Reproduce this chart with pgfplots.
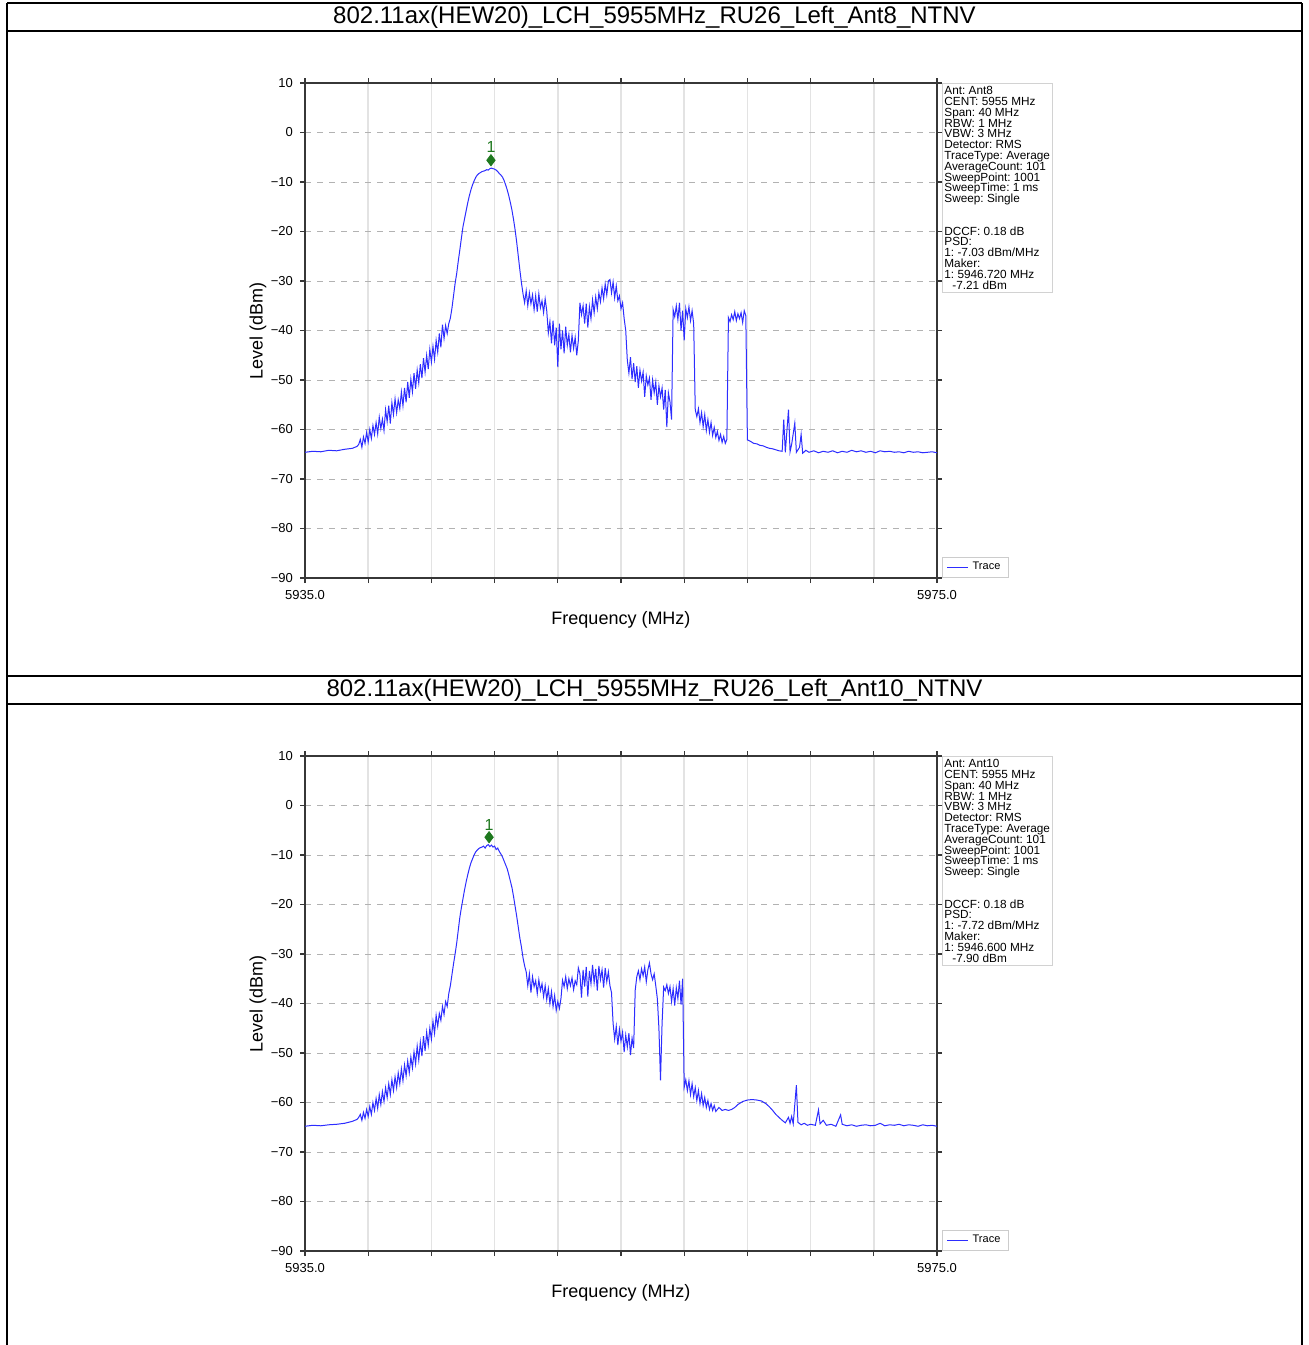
\documentclass[border=0pt]{standalone}
\usepackage{pgfplots}
\usepackage{pgfplotstable}
\pgfplotsset{compat=1.18}
\usepackage{fontspec}
\setmainfont{Liberation Sans}
\definecolor{trace}{RGB}{45,45,255}
\definecolor{mk}{RGB}{30,120,30}
\definecolor{frame}{RGB}{55,55,55}
\newcommand\infofont{\fontsize{5.9}{5.4}\selectfont}

\pgfplotstableread[row sep=\\]{
x y\\
5935 -64.6\\5935.5 -64.4\\5936 -64.5\\5936.5 -64.2\\5937 -64.3\\5937.5 -64.0\\5938 -63.8\\5938.3 -63.4\\
5938.4 -63.0\\5938.5 -62.0\\5938.6 -63.6\\5938.7 -61.5\\5938.8 -62.8\\5938.9 -60.6\\5939.0 -62.5\\5939.1 -60.0\\5939.2 -61.8\\5939.3 -59.2\\
5939.4 -61.0\\5939.5 -58.6\\5939.6 -60.9\\5939.7 -57.5\\5939.8 -59.8\\5939.9 -57.9\\5940.0 -60.2\\5940.1 -56.0\\5940.2 -58.4\\5940.3 -55.2\\
5940.4 -58.8\\5940.5 -54.6\\5940.6 -57.0\\5940.7 -53.8\\5940.8 -56.6\\5940.9 -54.0\\5941.0 -55.8\\5941.1 -52.4\\5941.2 -55.2\\5941.3 -51.6\\
5941.4 -54.5\\5941.5 -50.4\\5941.6 -53.6\\5941.7 -49.8\\5941.8 -52.4\\5941.9 -48.6\\5942.0 -51.8\\5942.1 -48.0\\5942.2 -50.6\\5942.3 -46.8\\
5942.4 -49.6\\5942.5 -45.6\\5942.6 -48.4\\5942.7 -45.0\\5942.8 -47.8\\5942.9 -43.8\\5943.0 -46.4\\5943.1 -43.2\\5943.2 -45.8\\5943.3 -42.0\\
5943.4 -44.4\\5943.5 -40.6\\5943.6 -43.4\\5943.7 -38.8\\5943.8 -41.6\\5943.9 -39.0\\5944.0 -40.6\\5944.1 -38.6\\
5944.2 -37.5\\5944.3 -35.5\\5944.4 -33.0\\5944.5 -30.5\\5944.6 -28.5\\5944.7 -26.0\\5944.8 -23.7\\5944.9 -21.3\\5945.0 -19.0\\5945.1 -17.4\\
5945.2 -15.8\\5945.3 -14.2\\5945.4 -12.8\\5945.5 -11.6\\5945.6 -10.6\\5945.7 -9.8\\5945.8 -9.1\\5945.9 -8.6\\5946.0 -8.3\\5946.1 -8.1\\
5946.2 -7.9\\5946.3 -7.8\\5946.4 -7.7\\5946.5 -7.5\\5946.6 -7.6\\5946.7 -7.3\\5946.8 -7.2\\5946.9 -7.3\\5947.0 -7.4\\5947.1 -7.6\\
5947.2 -7.9\\5947.3 -8.3\\5947.4 -8.6\\5947.5 -9.0\\5947.6 -9.7\\5947.7 -10.6\\5947.8 -11.6\\5947.9 -12.8\\5948.0 -14.2\\5948.1 -15.7\\
5948.2 -17.6\\5948.3 -19.7\\5948.4 -22.2\\5948.5 -25.0\\5948.6 -27.8\\5948.7 -30.4\\5948.8 -32.6\\5948.9 -34.4\\
5949.0 -32.0\\5949.1 -35.0\\5949.2 -32.4\\5949.3 -34.6\\5949.4 -32.8\\5949.5 -35.8\\5949.6 -33.0\\5949.7 -36.2\\5949.8 -32.6\\5949.9 -35.4\\
5950.0 -34.0\\5950.1 -36.4\\5950.2 -33.6\\5950.3 -36.0\\5950.4 -40.5\\5950.5 -38.2\\5950.6 -42.6\\5950.7 -38.0\\5950.8 -43.0\\5950.9 -39.4\\
5951.0 -47.4\\5951.1 -38.6\\5951.2 -43.8\\5951.3 -40.0\\5951.4 -44.6\\5951.5 -39.2\\5951.6 -43.0\\5951.7 -40.8\\5951.8 -44.4\\5951.9 -41.0\\
5952.0 -43.6\\5952.1 -41.4\\5952.2 -45.0\\5952.3 -42.0\\5952.4 -34.4\\5952.5 -36.8\\5952.6 -35.0\\5952.7 -38.6\\5952.8 -34.6\\5952.9 -39.4\\
5953.0 -35.2\\5953.1 -37.6\\5953.2 -33.8\\5953.3 -36.4\\5953.4 -33.2\\5953.5 -35.6\\5953.6 -32.4\\5953.7 -34.2\\5953.8 -31.4\\5953.9 -33.6\\
5954.0 -30.6\\5954.1 -32.8\\5954.2 -30.0\\5954.3 -29.7\\5954.4 -32.4\\5954.5 -30.2\\5954.6 -33.4\\5954.7 -31.0\\5954.8 -34.0\\5954.9 -33.0\\
5955.0 -35.6\\5955.1 -34.4\\5955.2 -37.6\\5955.3 -40.0\\5955.4 -46.0\\5955.5 -48.6\\5955.6 -45.4\\5955.7 -49.8\\5955.8 -46.6\\5955.9 -50.4\\
5956.0 -47.2\\5956.1 -51.6\\5956.2 -48.0\\5956.3 -50.2\\5956.4 -48.4\\5956.5 -53.4\\5956.6 -49.2\\5956.7 -51.0\\5956.8 -49.6\\5956.9 -54.0\\
5957.0 -50.0\\5957.1 -52.6\\5957.2 -50.4\\5957.3 -55.0\\5957.4 -51.2\\5957.5 -53.4\\5957.6 -51.6\\5957.7 -56.0\\5957.8 -52.0\\5957.9 -59.5\\
5958.0 -52.6\\5958.1 -54.4\\5958.2 -58.0\\5958.3 -35.8\\5958.4 -37.2\\5958.5 -35.0\\5958.6 -37.8\\5958.7 -34.4\\5958.8 -40.0\\5958.9 -36.0\\
5959.0 -42.0\\5959.1 -35.6\\5959.2 -37.4\\5959.3 -35.2\\5959.4 -38.0\\5959.5 -36.0\\5959.6 -38.6\\5959.7 -56.0\\5959.8 -57.4\\5959.9 -55.8\\
5960.0 -58.6\\5960.1 -56.6\\5960.2 -59.4\\5960.3 -57.0\\5960.4 -60.2\\5960.5 -58.0\\5960.6 -60.6\\5960.7 -58.6\\5960.8 -61.2\\5960.9 -59.6\\
5961.0 -61.6\\5961.1 -60.4\\5961.2 -62.2\\5961.3 -61.0\\5961.4 -62.6\\5961.5 -61.4\\5961.6 -62.8\\5961.7 -62.0\\5961.8 -37.4\\5961.9 -38.2\\
5962.0 -36.8\\5962.1 -37.8\\5962.2 -36.2\\5962.3 -38.0\\5962.4 -36.6\\5962.5 -37.6\\5962.6 -36.4\\5962.7 -38.4\\5962.8 -36.0\\5962.9 -37.0\\
5963.0 -62.1\\5963.2 -62.4\\5963.4 -62.8\\5963.6 -62.9\\5963.8 -63.2\\5964.0 -63.3\\5964.2 -63.6\\5964.4 -63.8\\5964.6 -63.9\\5964.8 -64.1\\
5965.0 -64.3\\5965.2 -64.4\\5965.3 -58.0\\5965.4 -64.6\\5965.6 -56.0\\5965.7 -64.5\\5965.8 -63.0\\5966.0 -58.7\\5966.1 -64.6\\5966.3 -63.6\\
5966.4 -61.0\\5966.5 -64.8\\5966.7 -64.2\\5966.9 -64.6\\5967.2 -64.3\\5967.5 -64.7\\5967.8 -64.4\\5968.1 -64.6\\5968.4 -64.3\\5968.7 -64.7\\
5969.0 -64.4\\5969.3 -64.6\\5969.6 -64.2\\5969.9 -64.5\\5970.2 -64.3\\5970.5 -64.6\\5970.8 -64.4\\5971.1 -64.7\\5971.4 -64.3\\5971.7 -64.5\\
5972.0 -64.4\\5972.3 -64.6\\5972.6 -64.5\\5972.9 -64.7\\5973.2 -64.4\\5973.5 -64.6\\5973.8 -64.5\\5974.1 -64.7\\5974.4 -64.6\\5974.7 -64.5\\
5975.0 -64.7\\
}\traceA

\pgfplotstableread[row sep=\\]{
x y\\
5935 -64.8\\5935.5 -64.6\\5936 -64.7\\5936.5 -64.5\\5937 -64.4\\5937.5 -64.2\\5938 -63.8\\5938.3 -63.4\\
5938.4 -63.0\\5938.5 -62.4\\5938.6 -63.6\\5938.7 -62.0\\5938.8 -63.2\\5938.9 -61.4\\5939.0 -62.8\\5939.1 -60.8\\5939.2 -62.4\\5939.3 -60.0\\
5939.4 -61.6\\5939.5 -59.2\\5939.6 -61.2\\5939.7 -58.4\\5939.8 -60.4\\5939.9 -57.8\\5940.0 -59.8\\5940.1 -57.0\\5940.2 -59.0\\5940.3 -56.2\\
5940.4 -58.4\\5940.5 -55.4\\5940.6 -57.6\\5940.7 -54.8\\5940.8 -57.0\\5940.9 -54.0\\5941.0 -56.2\\5941.1 -53.2\\5941.2 -55.6\\5941.3 -52.4\\
5941.4 -54.6\\5941.5 -51.6\\5941.6 -54.0\\5941.7 -50.8\\5941.8 -53.0\\5941.9 -49.8\\5942.0 -52.2\\5942.1 -48.6\\5942.2 -51.4\\5942.3 -47.8\\
5942.4 -50.6\\5942.5 -46.6\\5942.6 -49.6\\5942.7 -45.8\\5942.8 -48.4\\5942.9 -45.0\\5943.0 -47.2\\5943.1 -43.6\\5943.2 -46.0\\5943.3 -42.4\\
5943.4 -44.6\\5943.5 -42.0\\5943.6 -43.4\\5943.7 -40.6\\5943.8 -42.2\\5943.9 -39.6\\5944.0 -40.6\\5944.1 -38.0\\
5944.2 -36.4\\5944.3 -34.2\\5944.4 -32.0\\5944.5 -30.0\\5944.6 -27.8\\5944.7 -25.2\\5944.8 -22.6\\5944.9 -20.6\\5945.0 -18.8\\5945.1 -17.0\\
5945.2 -15.4\\5945.3 -14.0\\5945.4 -12.7\\5945.5 -11.6\\5945.6 -10.8\\5945.7 -10.0\\5945.8 -9.4\\5945.9 -9.0\\5946.0 -8.7\\5946.1 -8.5\\
5946.2 -8.4\\5946.3 -8.2\\5946.4 -8.6\\5946.5 -8.1\\5946.6 -7.9\\5946.7 -8.3\\5946.8 -8.0\\5946.9 -8.4\\5947.0 -8.2\\5947.1 -8.9\\
5947.2 -8.6\\5947.3 -9.3\\5947.4 -9.8\\5947.5 -10.4\\5947.6 -11.2\\5947.7 -12.0\\5947.8 -12.8\\5947.9 -14.0\\5948.0 -15.3\\5948.1 -16.6\\
5948.2 -18.4\\5948.3 -20.4\\5948.4 -22.4\\5948.5 -24.6\\5948.6 -26.8\\5948.7 -28.6\\5948.8 -30.8\\5948.9 -32.4\\
5949.0 -33.6\\5949.1 -36.4\\5949.2 -34.0\\5949.3 -37.8\\5949.4 -34.6\\5949.5 -36.6\\5949.6 -35.4\\5949.7 -38.0\\5949.8 -35.2\\5949.9 -37.4\\
5950.0 -36.0\\5950.1 -38.6\\5950.2 -36.4\\5950.3 -39.2\\5950.4 -37.0\\5950.5 -40.0\\5950.6 -37.6\\5950.7 -40.6\\5950.8 -38.4\\5950.9 -41.4\\
5951.0 -39.6\\5951.1 -41.0\\5951.2 -39.0\\5951.3 -35.3\\5951.4 -36.6\\5951.5 -34.6\\5951.6 -37.0\\5951.7 -35.0\\5951.8 -36.4\\5951.9 -34.8\\
5952.0 -37.2\\5952.1 -35.4\\5952.2 -36.2\\5952.3 -32.8\\5952.4 -34.0\\5952.5 -38.8\\5952.6 -33.2\\5952.7 -36.6\\5952.8 -32.6\\5952.9 -38.6\\
5953.0 -33.4\\5953.1 -36.0\\5953.2 -32.2\\5953.3 -35.8\\5953.4 -33.0\\5953.5 -37.4\\5953.6 -32.4\\5953.7 -35.2\\5953.8 -33.2\\5953.9 -36.8\\
5954.0 -32.8\\5954.1 -35.6\\5954.2 -33.6\\5954.3 -36.4\\5954.4 -37.8\\5954.5 -44.0\\5954.6 -47.2\\5954.7 -44.6\\5954.8 -48.4\\5954.9 -45.2\\
5955.0 -47.6\\5955.1 -45.8\\5955.2 -49.8\\5955.3 -46.4\\5955.4 -48.8\\5955.5 -46.0\\5955.6 -50.4\\5955.7 -47.0\\5955.8 -49.0\\5955.9 -37.3\\
5956.0 -34.6\\5956.1 -33.4\\5956.2 -35.2\\5956.3 -33.0\\5956.4 -34.4\\5956.5 -32.6\\5956.6 -35.6\\5956.7 -33.2\\5956.8 -31.8\\5956.9 -34.0\\
5957.0 -35.2\\5957.1 -34.0\\5957.2 -36.4\\5957.3 -39.0\\5957.4 -45.0\\5957.5 -55.5\\5957.6 -44.0\\5957.7 -36.7\\5957.8 -37.4\\5957.9 -36.2\\
5958.0 -38.0\\5958.1 -36.6\\5958.2 -39.6\\5958.3 -37.0\\5958.4 -40.4\\5958.5 -36.8\\5958.6 -39.0\\5958.7 -35.4\\5958.8 -40.2\\5958.9 -35.0\\
5959.0 -56.9\\5959.1 -55.4\\5959.2 -57.6\\5959.3 -55.6\\5959.4 -58.4\\5959.5 -56.2\\5959.6 -58.8\\5959.7 -57.0\\5959.8 -59.6\\5959.9 -57.6\\
5960.0 -60.2\\5960.1 -58.2\\5960.2 -60.6\\5960.3 -59.0\\5960.4 -61.0\\5960.5 -59.6\\5960.6 -61.4\\5960.7 -60.2\\5960.8 -61.6\\5960.9 -60.6\\
5961.0 -61.8\\5961.2 -61.0\\5961.4 -61.6\\5961.6 -61.4\\5961.8 -61.6\\5962.0 -61.4\\5962.2 -61.0\\5962.4 -60.4\\5962.7 -59.8\\5963.0 -59.5\\
5963.3 -59.4\\5963.6 -59.5\\5963.9 -59.7\\5964.2 -60.3\\5964.4 -60.9\\5964.6 -61.6\\5964.8 -62.4\\5965.0 -63.0\\5965.2 -63.6\\5965.4 -64.1\\
5965.6 -63.0\\5965.7 -64.2\\5965.8 -62.8\\5965.9 -64.3\\5966.1 -56.5\\5966.2 -64.0\\5966.4 -64.5\\5966.6 -64.2\\5966.8 -64.6\\5967.0 -64.4\\
5967.3 -64.6\\5967.5 -61.5\\5967.6 -64.3\\5967.8 -63.6\\5968.0 -64.6\\5968.3 -64.4\\5968.6 -64.8\\5968.9 -62.5\\5969.0 -64.4\\5969.3 -64.7\\
5969.6 -64.5\\5969.9 -64.8\\5970.2 -64.6\\5970.5 -64.5\\5970.8 -64.7\\5971.1 -64.6\\5971.4 -64.2\\5971.7 -64.7\\5972.0 -64.5\\5972.3 -64.6\\
5972.6 -64.4\\5972.9 -64.7\\5973.2 -64.5\\5973.5 -64.6\\5973.8 -64.8\\5974.1 -64.5\\5974.4 -64.7\\5974.7 -64.6\\5975.0 -64.8\\
}\traceB

\pgfplotsset{specstyle/.style={
  scale only axis, width=316pt, height=247.5pt,
  xmin=5935, xmax=5975, ymin=-90, ymax=10,
  xtick={5935,5939,5943,5947,5951,5955,5959,5963,5967,5971,5975},
  xticklabels={5935.0,,,,,,,,,,5975.0},
  ytick={-90,-80,-70,-60,-50,-40,-30,-20,-10,0,10},
  yticklabels={−90,−80,−70,−60,−50,−40,−30,−20,−10,0,10},
  /pgf/number format/assume math mode=true,
  tick align=outside, major tick length=2.5pt,
  tick style={frame, line width=0.6pt},
  axis line style={frame, line width=1pt},
  xmajorgrids, ymajorgrids,
  x grid style={gray!22, line width=0.8pt},
  y grid style={gray!60, dashed, line width=0.4pt},
  tick label style={font=\fontsize{6.5}{7}\selectfont},
  xlabel={Frequency (MHz)}, ylabel={Level (dBm)},
  label style={font=\fontsize{9}{10}\selectfont},
  xlabel style={at={(axis description cs:0.5,-0.0848)}, anchor=center},
  ylabel style={at={(axis description cs:-0.0744,0.5)}, anchor=center},
  legend style={at={(axis description cs:1.008,0)}, anchor=south west,
    font=\fontsize{5.5}{6}\selectfont, draw=gray!40, inner xsep=2pt, inner ysep=0.5pt},
  legend cell align=left,
  legend image code/.code={\draw[trace, line width=0.6pt] (0pt,0pt) -- (10.5pt,0pt);},
}}

\begin{document}
\frenchspacing
\lineskiplimit=-20pt
\lineskip=0pt
\begin{tikzpicture}
\useasboundingbox (0pt,0pt) rectangle (654pt,-672.5pt);
\begin{scope}[x=0.5pt,y=-0.5pt]
  \draw[line width=1pt] (7,3) -- (1302,3);
  \draw[line width=1pt] (7,31) -- (1302,31);
  \draw[line width=1pt] (7,676) -- (1302,676);
  \draw[line width=1pt] (7,704) -- (1302,704);
  \draw[line width=1pt] (7,3) -- (7,1345);
  \draw[line width=1pt] (1302,3) -- (1302,1345);
  \node[font=\fontsize{12}{14}\selectfont] at (654.5,17) {802.11ax(HEW20)\_LCH\_5955MHz\_RU26\_Left\_Ant8\_NTNV};
  \node[font=\fontsize{12}{14}\selectfont] at (654.5,690) {802.11ax(HEW20)\_LCH\_5955MHz\_RU26\_Left\_Ant10\_NTNV};
  \node[anchor=north west, draw=gray!35, fill=white, inner xsep=1pt, inner ysep=1.5pt, align=left,
        font=\infofont] at (942,83)
   {Ant: Ant8\\CENT: 5955 MHz\\Span: 40 MHz\\RBW: 1 MHz\\VBW: 3 MHz\\Detector: RMS\\TraceType: Average\\AverageCount: 101\\SweepPoint: 1001\\SweepTime: 1 ms\\Sweep: Single\\[10.8pt]DCCF: 0.18 dB\\PSD:\\1: -7.03 dBm/MHz\\Maker:\\1: 5946.720 MHz\\\hspace*{4pt}-7.21 dBm};
  \node[anchor=north west, draw=gray!35, fill=white, inner xsep=1pt, inner ysep=1.5pt, align=left,
        font=\infofont] at (942,756)
   {Ant: Ant10\\CENT: 5955 MHz\\Span: 40 MHz\\RBW: 1 MHz\\VBW: 3 MHz\\Detector: RMS\\TraceType: Average\\AverageCount: 101\\SweepPoint: 1001\\SweepTime: 1 ms\\Sweep: Single\\[10.8pt]DCCF: 0.18 dB\\PSD:\\1: -7.72 dBm/MHz\\Maker:\\1: 5946.600 MHz\\\hspace*{4pt}-7.90 dBm};
\end{scope}

\begin{axis}[specstyle, at={(152.5pt,-289pt)}, anchor=south west]
  \addplot[trace, line width=0.5pt] table[x=x,y=y] {\traceA};
  \addlegendentry{Trace}
  \addplot[only marks, mark=diamond*, mark size=2.8pt, color=mk, forget plot] coordinates {(5946.77,-5.6)};
  \node[text=mk, font=\fontsize{8}{9}\selectfont] at (axis cs:5946.77,-2.9) {1};
\end{axis}

\begin{axis}[specstyle, at={(152.5pt,-625.5pt)}, anchor=south west]
  \addplot[trace, line width=0.5pt] table[x=x,y=y] {\traceB};
  \addlegendentry{Trace}
  \addplot[only marks, mark=diamond*, mark size=2.8pt, color=mk, forget plot] coordinates {(5946.65,-6.4)};
  \node[text=mk, font=\fontsize{8}{9}\selectfont] at (axis cs:5946.65,-3.9) {1};
\end{axis}
\end{tikzpicture}
\end{document}
